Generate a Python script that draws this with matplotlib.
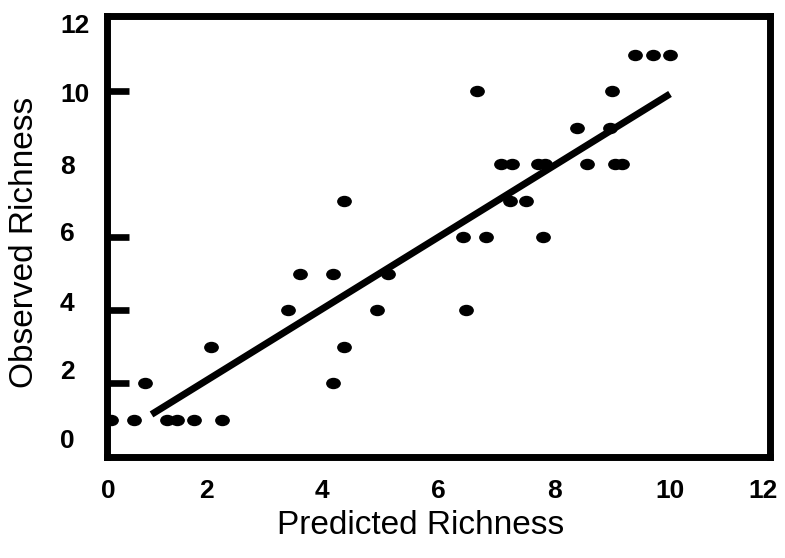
import matplotlib

matplotlib.use("Agg")
import matplotlib.pyplot as plt
from matplotlib.path import Path
from matplotlib.transforms import Affine2D
import numpy as np

# observed vs predicted richness
predicted = [0.36, 0.76, 0.95, 1.33, 1.50, 1.79, 2.09, 2.28, 3.41, 3.62, 4.19, 4.19,
             4.38, 4.38, 4.95, 5.14, 6.43, 6.48, 6.67, 6.83, 7.09, 7.28, 7.24, 7.52,
             7.72, 7.84, 7.81, 8.40, 8.57, 8.97, 9.00, 9.05, 9.17, 9.40, 9.71, 10.00]
observed = [1, 1, 2, 1, 1, 1, 3, 1, 4, 5, 5, 2,
            7, 3, 4, 5, 6, 4, 10, 6, 8, 8, 7, 7,
            8, 8, 6, 9, 8, 9, 10, 8, 8, 11, 11, 11]

# regression line end points
fit_x = [1.06, 10.0]
fit_y = [1.14, 9.92]

tick_values = [2, 4, 6, 8, 10]
tick_labels = ["0", "2", "4", "6", "8", "10", "12"]

# label placement in the original is a little off the tick marks
x_label_pos = [0.31, 2, 4, 6, 8, 10, 11.6]
y_label_pos = [0.49, 2.36, 4.22, 6.14, 8.0, 9.97, 11.86]

plt.rcParams["font.family"] = ["Liberation Sans", "DejaVu Sans"]

fig = plt.figure(figsize=(7.85, 5.58), dpi=100)
ax = fig.add_axes([0.1357, 0.1810, 0.8446, 0.7903])

ellipse = Path.unit_circle().transformed(Affine2D().scale(1.0, 0.75))
ax.plot(predicted, observed, linestyle="none", marker=ellipse, markersize=9.6,
        color="black", zorder=2)
ax.plot(fit_x, fit_y, color="black", linewidth=5, solid_capstyle="butt", zorder=3)

ax.set_xlim(0.284, 11.716)
ax.set_ylim(-0.027, 12.055)

ax.set_xticks(x_label_pos, tick_labels)
ax.set_yticks(y_label_pos, tick_labels)
ax.set_xticks(tick_values, minor=True)
ax.set_yticks(tick_values, minor=True)

ax.tick_params(which="major", length=0, labelsize=19)
ax.tick_params(axis="x", which="major", pad=15.5)
ax.tick_params(axis="y", which="major", pad=33.5)
ax.tick_params(axis="x", which="minor", direction="in", length=11.5, width=4.8, color="black")
ax.tick_params(axis="y", which="minor", direction="in", length=15.5, width=4.8, color="black")
for lab in ax.get_xticklabels() + ax.get_yticklabels():
    lab.set_fontweight("bold")
for lab in ax.get_yticklabels():
    lab.set_ha("left")

for spine in ax.spines.values():
    spine.set_linewidth(5)
    spine.set_color("black")

fig.text(421 / 785, 1 - 534 / 558, "Predicted Richness", fontsize=24,
         ha="center", va="baseline")
fig.text(33 / 785, 1 - 242 / 558, "Observed Richness", fontsize=24,
         rotation=90, rotation_mode="anchor", ha="center", va="baseline")

fig.savefig("out.png", dpi=100)
